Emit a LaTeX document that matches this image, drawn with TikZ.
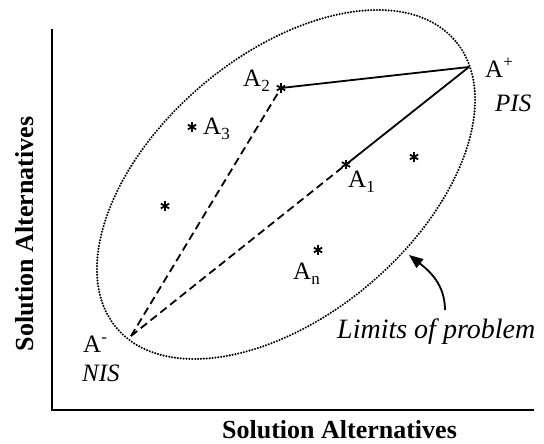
\documentclass[tikz,border=0pt]{standalone}
\usepackage{fontspec}
\setmainfont{Liberation Serif}
\usetikzlibrary{arrows.meta}
\newcommand\sbx[1]{\raisebox{-0.18em}{\fontsize{17}{17}\selectfont #1}}
\newcommand\spx[1]{\raisebox{0.42em}{\fontsize{17}{17}\selectfont #1}}
\tikzset{
  lbl/.style={inner sep=0pt, anchor=base west, font=\fontsize{25}{25}\selectfont},
  itlbl/.style={inner sep=0pt, anchor=base west, font=\fontsize{25}{25}\selectfont\itshape},
  axlbl/.style={inner sep=0pt, anchor=base, font=\fontsize{26}{26}\selectfont\bfseries},
  astnode/.style={circle, inner sep=0pt, minimum size=12pt,
    path picture={\foreach \a in {90,30,150}{\draw[line width=1.8pt] (path picture bounding box.center) ++(\a:4.8pt) -- ++(\a+180:9.6pt);}}},
  solidline/.style={line width=1.8pt},
  dashline/.style={line width=1.8pt, dash pattern=on 8pt off 4.5pt},
  dotline/.style={line width=2.3pt, line cap=round, dash pattern=on 0pt off 2.9pt},
  axis/.style={line width=2.2pt},
}
\begin{document}
\begin{tikzpicture}[x=1pt,y=1pt]
\useasboundingbox (0,0) rectangle (544,444);
% axes
\coordinate (ytop) at (52,415);
\coordinate (orig) at (52,34);
\coordinate (xend) at (534,34);
\draw[axis] (ytop) -- (orig) -- (xend);
\node[axlbl] (xl) at (339.5,5) {Solution Alternatives};
\node[axlbl, rotate=90] (yl) at (33,210) {Solution Alternatives};
% ellipse
\draw[dotline, rotate around={40.3:(286,259.5)}] (286,259.5) ellipse [x radius=222pt, y radius=130pt];
% points
\coordinate (Ap) at (469,377);
\coordinate (Am) at (131,108);
\node[astnode] (s2) at (281,356) {};
\node[astnode] (s1) at (346,279.5) {};
\node[astnode] (s3) at (192,317) {};
\node[astnode] (s4) at (165,238) {};
\node[astnode] (s5) at (414,287) {};
\node[astnode] (sn) at (318,194) {};
% lines
\draw[solidline] (s2.center) -- (Ap);
\draw[solidline] (s1.center) -- (Ap);
\draw[dashline] (Am) -- (s2.center);
\draw[dashline] (Am) -- (s1.center);
% labels
\node[lbl] (l2) at (243,357) {A\sbx{2}};
\node[lbl] (lp) at (485,366) {A\spx{+}};
\node[itlbl] (pis) at (495,332) {PIS};
\node[lbl] (lm) at (83,91) {A\spx{-}};
\node[itlbl] (nis) at (82,62) {NIS};
\node[lbl] (ln) at (293,164) {A\sbx{n}};
\node[lbl] (l1) at (348,256) {A\sbx{1}};
\node[lbl] (l3) at (203,309) {A\sbx{3}};
\node[itlbl, font=\fontsize{28}{28}\selectfont\itshape] (lim) at (337,105) {Limits of problem};
% arrow
\coordinate (arrs) at (445,134);
\coordinate (arre) at (409,189);
\draw[line width=1.8pt, -{Triangle[length=14pt,width=11pt]}] (arrs) to[out=90, in=-38] (arre);
\end{tikzpicture}
\end{document}
